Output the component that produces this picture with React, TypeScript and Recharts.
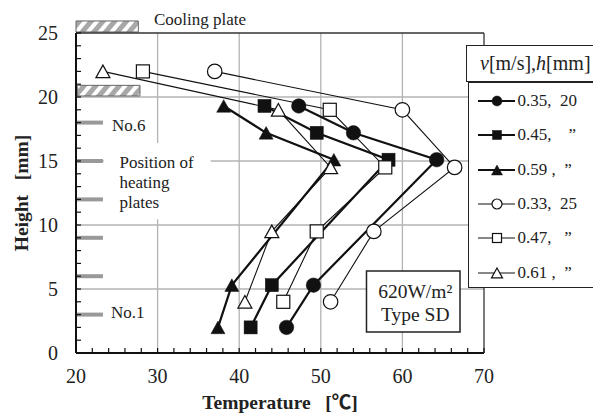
import React from "react";
import {
  ScatterChart,
  Scatter,
  XAxis,
  YAxis,
  CartesianGrid,
  ReferenceLine,
  ReferenceArea,
  ReferenceDot,
  Legend,
} from "recharts";

const FONT = '"Liberation Serif", "Times New Roman", "Noto Sans CJK JP", serif';
const INK = "#111";
const TEXT = "#222";

// measuring heights [mm] for the two gaps
const heightsH20 = [2.0, 5.3, 15.1, 17.2, 19.3];
const heightsH25 = [4.0, 9.5, 14.5, 19.0, 22.0];

// temperatures [°C], same order as the heights
const tempV035 = [45.8, 49.1, 64.2, 54.0, 47.3];
const tempV045 = [41.4, 44.0, 58.3, 49.5, 43.1];
const tempV059 = [37.4, 39.1, 51.6, 43.3, 38.1];
const tempV033 = [51.2, 56.5, 66.4, 60.0, 37.0];
const tempV047 = [45.4, 49.5, 57.9, 51.1, 28.2];
const tempV061 = [40.7, 44.0, 51.2, 44.8, 23.3];

const heaterHeights = [3, 6, 9, 12, 15, 18];

const xTicks = [20, 22, 24, 26, 28, 30, 32, 34, 36, 38, 40, 42, 44, 46, 48, 50, 52, 54, 56, 58, 60, 62, 64, 66, 68, 70];
const yTicks = [0, 1, 2, 3, 4, 5, 6, 7, 8, 9, 10, 11, 12, 13, 14, 15, 16, 17, 18, 19, 20, 21, 22, 23, 24, 25];
const xGrid = [30, 40, 50, 60];
const yGrid = [5, 10, 15, 20];

type Mark = "circle" | "square" | "triangle";

const series: { label: string; temps: number[]; heights: number[]; mark: Mark; filled: boolean }[] = [
  { label: "0.35,  20", temps: tempV035, heights: heightsH20, mark: "circle", filled: true },
  { label: "0.45,    \u201d", temps: tempV045, heights: heightsH20, mark: "square", filled: true },
  { label: "0.59 ,  \u201d", temps: tempV059, heights: heightsH20, mark: "triangle", filled: true },
  { label: "0.33,  25", temps: tempV033, heights: heightsH25, mark: "circle", filled: false },
  { label: "0.47,   \u201d", temps: tempV047, heights: heightsH25, mark: "square", filled: false },
  { label: "0.61 ,  \u201d", temps: tempV061, heights: heightsH25, mark: "triangle", filled: false },
];

function Marker({ cx, cy, mark, filled, size }: { cx: number; cy: number; mark: Mark; filled: boolean; size: number }) {
  const fill = filled ? INK : "#fff";
  const sw = filled ? 0.5 : 1.2;
  if (mark === "circle") {
    return <circle cx={cx} cy={cy} r={size / 2} fill={fill} stroke={INK} strokeWidth={sw} />;
  }
  if (mark === "square") {
    const s = size * 0.9;
    return <rect x={cx - s / 2} y={cy - s / 2} width={s} height={s} fill={fill} stroke={INK} strokeWidth={sw} />;
  }
  const w = size;
  const h = size * 0.9;
  const pts = `${cx},${cy - h / 2} ${cx + w / 2},${cy + h / 2} ${cx - w / 2},${cy + h / 2}`;
  return <polygon points={pts} fill={fill} stroke={INK} strokeWidth={sw} strokeLinejoin="miter" />;
}

function XTick(props: any) {
  const { x, y, payload } = props;
  const v = payload.value;
  return (
    <g>
      <line x1={x} x2={x} y1={y} y2={y - 5} stroke={INK} strokeWidth={1.2} />
      {v % 10 === 0 && (
        <text x={x} y={y + 30} textAnchor="middle" fontSize={20} fontFamily={FONT} fill={TEXT}>
          {v}
        </text>
      )}
    </g>
  );
}

function YTick(props: any) {
  const { x, y, payload } = props;
  const v = payload.value;
  return (
    <g>
      <line x1={x} x2={x + 5} y1={y} y2={y} stroke={INK} strokeWidth={1.2} />
      {v % 5 === 0 && (
        <text x={x - 18} y={y + 7} textAnchor="end" fontSize={20} fontFamily={FONT} fill={TEXT}>
          {v}
        </text>
      )}
    </g>
  );
}

function Note(props: any) {
  const { viewBox, text } = props;
  return (
    <text x={viewBox.x} y={viewBox.y} dy="0.34em" fontSize={17} fontFamily={FONT} fill={TEXT}>
      {text}
    </text>
  );
}

function InfoLabel(props: any) {
  const { x, y, width } = props.viewBox;
  const cx = x + width / 2 + 2;
  return (
    <g fontFamily={FONT} fontSize={19.5} fill={TEXT} textAnchor="middle">
      <text x={cx} y={y + 26.5}>620W/m²</text>
      <text x={cx} y={y + 49.5}>Type SD</text>
    </g>
  );
}

function LegendBox() {
  const box: React.CSSProperties = {
    position: "absolute",
    boxSizing: "border-box",
    border: "1.5px solid #222",
    background: "#fff",
  };
  return (
    <div style={{ position: "relative", width: 140, height: 243, fontFamily: FONT, color: TEXT }}>
      <div style={{ ...box, left: 0, top: 0, width: 140, height: 37, fontSize: 20, lineHeight: "34px", paddingLeft: 13 }}>
        <i>v</i>[m/s],<i>h</i>[mm]
      </div>
      <div style={{ ...box, left: 2, top: 37, width: 140, height: 206 }}>
        {series.map((s, i) => (
          <div
            key={s.label}
            style={{
              position: "absolute",
              left: 8.5,
              top: 1 + i * 34.3,
              height: 34,
              display: "flex",
              alignItems: "center",
            }}
          >
            <svg width={40} height={16} style={{ display: "block" }}>
              <line x1={0} x2={37} y1={8} y2={8} stroke={INK} strokeWidth={s.filled ? 2 : 1.2} />
              <Marker cx={19} cy={8} mark={s.mark} filled={s.filled} size={s.mark === "triangle" ? 11 : 10} />
            </svg>
            <span style={{ fontSize: 17, whiteSpace: "pre", lineHeight: "20px" }}>{s.label}</span>
          </div>
        ))}
      </div>
    </div>
  );
}

export default function App() {
  return (
    <div style={{ position: "absolute", left: 0, top: 0, width: 593, height: 414, overflow: "hidden", background: "#fff" }}>
      <ScatterChart width={593} height={414} margin={{ top: 33, right: 109, bottom: 0, left: 20 }}>
        <defs>
          <pattern id="hatch" width="9" height="9" patternUnits="userSpaceOnUse" patternTransform="rotate(40)">
            <rect width="5" height="9" fill="#a8a8a8" />
          </pattern>
        </defs>
        <CartesianGrid stroke="#b3b3b3" strokeWidth={1.3} horizontalValues={yGrid} verticalValues={xGrid} />
        <XAxis
          type="number"
          dataKey="t"
          domain={[20, 70]}
          ticks={xTicks}
          interval={0}
          height={61}
          tickSize={0}
          tickMargin={0}
          tickLine={false}
          tick={<XTick />}
          axisLine={{ stroke: INK, strokeWidth: 2 }}
          label={{
            value: "Temperature\u00a0\u00a0\u00a0[\u2103]",
            position: "insideBottom",
            offset: 5,
            fontSize: 19.5,
            fontWeight: "bold",
            fontFamily: FONT,
            fill: TEXT,
          }}
        />
        <YAxis
          type="number"
          dataKey="h"
          domain={[0, 25]}
          ticks={yTicks}
          interval={0}
          width={56}
          tickSize={0}
          tickMargin={0}
          tickLine={false}
          tick={<YTick />}
          axisLine={{ stroke: INK, strokeWidth: 2 }}
          label={{
            value: "Height\u00a0\u00a0\u00a0[mm]",
            angle: -90,
            position: "insideLeft",
            offset: 1,
            fontSize: 19.5,
            fontWeight: "bold",
            fontFamily: FONT,
            fill: TEXT,
            style: { textAnchor: "middle" },
          }}
        />

        {/* frame */}
        <ReferenceLine y={25} stroke="#333" strokeWidth={1.3} />
        <ReferenceLine x={70} stroke="#333" strokeWidth={1.3} />

        {/* cooling plates */}
        <ReferenceArea x1={20} x2={27.64} y1={25.08} y2={25.94} ifOverflow="visible" fill="url(#hatch)" fillOpacity={1} stroke="#666" strokeWidth={1} />
        <ReferenceArea x1={20.16} x2={27.84} y1={20.08} y2={20.91} ifOverflow="visible" fill="url(#hatch)" fillOpacity={1} stroke="#666" strokeWidth={1} />
        <ReferenceDot x={29.55} y={26.09} r={0} fill="none" stroke="none" ifOverflow="visible" label={<Note text="Cooling plate" />} />

        {/* heating plates */}
        <ReferenceArea x1={23.4} x2={36.5} y1={10.45} y2={16.4} fill="#fff" fillOpacity={1} stroke="none" />
        {heaterHeights.map((h) => (
          <ReferenceLine
            key={h}
            segment={[
              { x: 20, y: h },
              { x: 23.3, y: h },
            ]}
            stroke="#999"
            strokeWidth={4}
          />
        ))}
        <ReferenceDot x={24.41} y={17.83} r={0} fill="none" stroke="none" label={<Note text="No.6" />} />
        <ReferenceDot x={25.33} y={14.92} r={0} fill="none" stroke="none" label={<Note text="Position of" />} />
        <ReferenceDot x={25.33} y={13.36} r={0} fill="none" stroke="none" label={<Note text="heating" />} />
        <ReferenceDot x={25.33} y={11.8} r={0} fill="none" stroke="none" label={<Note text="plates" />} />
        <ReferenceDot x={24.3} y={3.2} r={0} fill="none" stroke="none" label={<Note text="No.1" />} />

        <ReferenceArea x1={55.6} x2={67.06} y1={1.64} y2={6.4} fill="#fff" fillOpacity={1} stroke="#222" strokeWidth={1.5} label={<InfoLabel />} />

        {series.map((s) => (
          <Scatter
            key={s.label}
            name={s.label}
            data={s.temps.map((t, i) => ({ t, h: s.heights[i] }))}
            fill={INK}
            line={{ stroke: INK, strokeWidth: s.filled ? 2.2 : 1.1 }}
            lineType="joint"
            isAnimationActive={false}
            shape={(p: any) => (
              <Marker
                cx={p.cx}
                cy={p.cy}
                mark={s.mark}
                filled={s.filled}
                size={s.mark === "circle" ? 14.5 : s.mark === "square" ? 14.5 : 14}
              />
            )}
          />
        ))}

        <Legend
          layout="vertical"
          align="center"
          verticalAlign="middle"
          wrapperStyle={{ left: 466, top: 45, width: 140, height: 243 }}
          content={() => <LegendBox />}
        />
      </ScatterChart>
    </div>
  );
}
